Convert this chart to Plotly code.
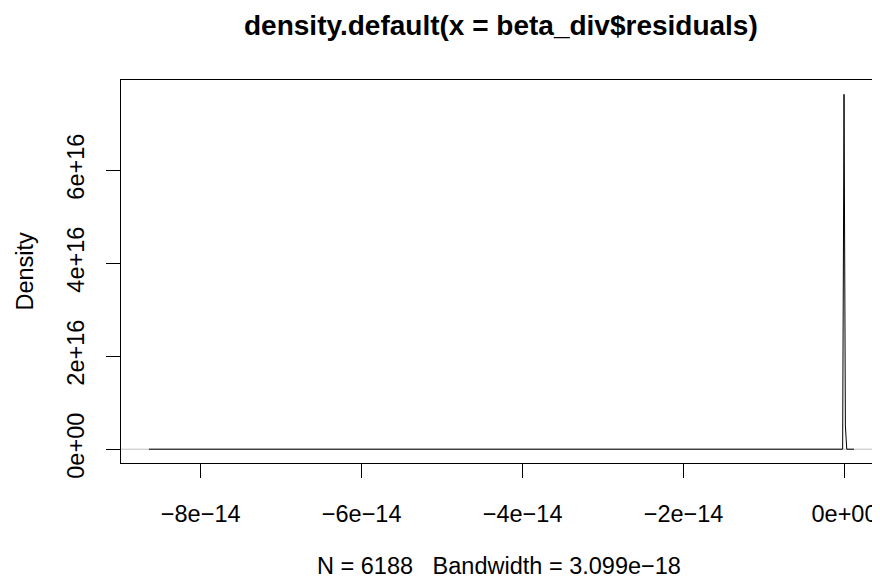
import plotly.graph_objects as go

# Density curve (x in data units, y density)
density_x = [-8.642e-14, -2.3e-16, -6.0e-17, 1.1e-16, 2.8e-16, 1.18e-15]
density_y = [0.0, 0.0, 7.63e16, 0.5e16, 0.0, 0.0]

x_tickvals = [-8e-14, -6e-14, -4e-14, -2e-14, 0.0]
x_ticktext = ["\u22128e\u221214", "\u22126e\u221214", "\u22124e\u221214", "\u22122e\u221214", "0e+00"]
y_tickvals = [0.0, 2e16, 4e16, 6e16]
y_ticktext = ["0e+00", "2e+16", "4e+16", "6e+16"]

title_text = "density.default(x = beta_div$residuals)"
x_label = "N = 6188\u00a0\u00a0\u00a0Bandwidth = 3.099e\u221218"
y_label = "Density"

# The page body has an 8px default margin; compensate so the figure
# lands at the same page pixels as the reference.
OFF = 8
PAGE_W, PAGE_H = 880, 579
W, H = PAGE_W - OFF, PAGE_H - OFF
PL, PT, PB = 121, 80, 463.3          # plot box edges in page pixels
L = PL - OFF
T = PT - OFF
B = PAGE_H - PB
R = 0
FONT = "Liberation Sans, Arial, Helvetica, sans-serif"
AX = 23.5
TI = 28

fig = go.Figure()
fig.add_trace(go.Scatter(x=density_x, y=density_y, mode="lines",
                         line=dict(color="black", width=1), hoverinfo="skip",
                         showlegend=False))

fig.add_shape(type="line", xref="paper", yref="y", x0=0, x1=1, y0=0, y1=0,
              line=dict(color="#BEBEBE", width=1), layer="below")

pw = PAGE_W - PL
ph = PB - PT

def px_to_paper_x(px):
    return (px - PL) / pw

def py_to_paper_y(py):
    return (PB - py) / ph

fig.add_annotation(text="<b>" + title_text + "</b>", xref="paper", yref="paper",
                   x=px_to_paper_x(501.5), y=py_to_paper_y(25), showarrow=False,
                   xanchor="center", yanchor="middle",
                   font=dict(family=FONT, size=TI, color="black"))
fig.add_annotation(text=x_label, xref="paper", yref="paper",
                   x=px_to_paper_x(499), y=py_to_paper_y(566), showarrow=False,
                   xanchor="center", yanchor="middle",
                   font=dict(family=FONT, size=AX, color="black"))
fig.add_annotation(text=y_label, xref="paper", yref="paper",
                   x=px_to_paper_x(24), y=0.5, showarrow=False, textangle=-90,
                   xanchor="center", yanchor="middle",
                   font=dict(family=FONT, size=AX, color="black"))

fig.update_layout(
    width=W, height=H,
    margin=dict(l=L, r=R, t=T, b=B, pad=0),
    paper_bgcolor="white", plot_bgcolor="white",
    font=dict(family=FONT, size=AX, color="black"),
    showlegend=False,
    xaxis=dict(range=[-8.990e-14, 0.4411e-14], showgrid=False, zeroline=False,
               showline=True, linecolor="black", linewidth=1, mirror=True,
               ticks="outside", ticklen=14, tickwidth=1, tickcolor="black",
               tickmode="array", tickvals=x_tickvals, ticktext=x_ticktext,
               tickfont=dict(family=FONT, size=AX, color="black"),
               ticklabelstandoff=16),
    yaxis=dict(range=[-0.2965e16, 7.938e16], showgrid=False, zeroline=False,
               showline=True, linecolor="black", linewidth=1, mirror=False,
               ticks="outside", ticklen=14, tickwidth=1, tickcolor="black",
               tickmode="array", tickvals=y_tickvals, ticktext=y_ticktext,
               tickangle=-90,
               tickfont=dict(family=FONT, size=AX, color="black"),
               ticklabelstandoff=13),
)

fig.write_html("out.html")
